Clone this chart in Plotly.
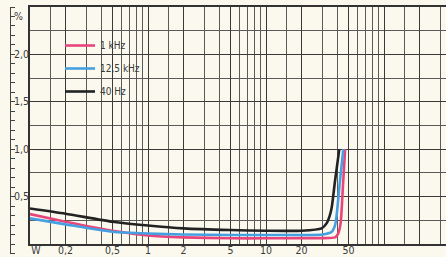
import plotly.graph_objects as go

# ---------------- data ----------------
x_1khz = [0.1, 0.2, 0.3, 0.5, 1, 2, 5, 10, 20, 30, 38.5, 40.9, 42.9, 44.6, 46.8]
y_1khz = [0.315, 0.235, 0.19, 0.14, 0.09, 0.07, 0.06, 0.06, 0.062, 0.062, 0.07, 0.11, 0.22, 0.55, 1.0]

x_12k5 = [0.1, 0.2, 0.5, 1, 2, 5, 10, 20, 30, 36.1, 38.5, 39.8, 42.4, 45.2]
y_12k5 = [0.27, 0.207, 0.13, 0.11, 0.10, 0.095, 0.095, 0.095, 0.10, 0.13, 0.2, 0.32, 0.67, 1.0]

x_40hz = [0.1, 0.2, 0.5, 1, 2, 5, 10, 20, 29.6, 32.7, 34.8, 36.1, 38.5, 41.8]
y_40hz = [0.375, 0.32, 0.235, 0.195, 0.165, 0.147, 0.14, 0.14, 0.165, 0.22, 0.305, 0.39, 0.67, 1.0]

series_names = ["1 kHz", "12,5 kHz", "40 Hz"]

x_label_vals = [0.112, 0.2, 0.5, 1, 2, 5, 10, 20, 50]
x_label_text = ["W", "0,2", "0,5", "1", "2", "5", "10", "20", "50"]

x_grid_major = [0.1, 0.2, 0.5, 1, 2, 5, 10, 20, 50, 100, 200]
x_grid_minor = [0.15, 0.3, 0.4, 0.6, 0.7, 0.8, 0.9, 1.5, 3, 4, 6, 7, 8, 9,
                15, 30, 40, 60, 70, 80, 90, 150, 300]

y_scale_vals = [round(-0.1 + 0.1 * i, 2) for i in range(27)]
y_scale_labels = {0.5: "0,5", 1.0: "1,0", 1.5: "1,5", 2.0: "2,0", 2.4: "%"}

# ---------------- layout helpers ----------------
W, H = 446, 257
BG = "#fbf9ee"
INK = "#3a3a3a"
FONT = "DejaVu Sans Condensed, Liberation Sans Narrow, Liberation Sans, sans-serif"

def fx(p):
    return p / W

def fy(p):
    return (H - p) / H

colors = ["#e8457a", "#45a0e2", "#222222"]

fig = go.Figure()
for xs, ys, name, c in [(x_1khz, y_1khz, series_names[0], colors[0]),
                        (x_12k5, y_12k5, series_names[1], colors[1]),
                        (x_40hz, y_40hz, series_names[2], colors[2])]:
    fig.add_trace(go.Scatter(x=xs, y=ys, mode="lines", name=name,
                             line=dict(color=c, width=2.6, shape="spline", smoothing=0.6),
                             legendgroup=name))

# invisible helper traces so the extra axes are drawn
fig.add_trace(go.Scatter(x=[1], y=[1], xaxis="x2", yaxis="y", mode="markers",
                         marker=dict(opacity=0), showlegend=False, hoverinfo="skip"))
fig.add_trace(go.Scatter(x=[0], y=[1], xaxis="x3", yaxis="y2", mode="markers",
                         marker=dict(opacity=0), showlegend=False, hoverinfo="skip"))

xrange = [-1, -1 + (W - 30) / 118]

fig.update_layout(
    width=W, height=H,
    margin=dict(l=0, r=0, t=0, b=0, autoexpand=False),
    paper_bgcolor=BG, plot_bgcolor=BG,
    font=dict(family=FONT, color=INK, size=11),
    showlegend=True,
    legend=dict(x=fx(60), y=fy(31), xanchor="left", yanchor="top",
                bgcolor="rgba(0,0,0,0)", font=dict(size=10, color=INK),
                traceorder="grouped", tracegroupgap=4, itemwidth=30),
    xaxis=dict(type="log", range=xrange, domain=[fx(30), 1], automargin=False,
               tickmode="array", tickvals=x_grid_major, showticklabels=False,
               ticks="", showgrid=True, gridcolor="#3a3a3a", gridwidth=1.4,
               minor=dict(tickmode="array", tickvals=x_grid_minor, showgrid=True,
                          gridcolor="#5a5a5a", gridwidth=1, ticks=""),
               showline=True, linecolor="#333", linewidth=1.5, mirror=True,
               zeroline=False, fixedrange=True),
    xaxis2=dict(type="log", range=xrange, overlaying="x", anchor="y", side="bottom",
                automargin=False, ticklabelstandoff=-2,
                tickmode="array", tickvals=x_label_vals, ticktext=x_label_text,
                showgrid=False, ticks="", showline=False, zeroline=False,
                tickfont=dict(size=10.5, color=INK)),
    xaxis3=dict(domain=[0, fx(29)], anchor="y2", visible=False, range=[0, 1],
                automargin=False),
    yaxis=dict(range=[0, 2.5], domain=[fy(244), fy(7)], automargin=False,
               tickmode="linear", tick0=0, dtick=0.5, showticklabels=False,
               ticks="", showgrid=True, gridcolor="#3a3a3a", gridwidth=1.4,
               minor=dict(dtick=0.25, tick0=0, showgrid=True, gridcolor="#5a5a5a",
                          gridwidth=1, ticks=""),
               showline=True, linecolor="#333", linewidth=1.5,
               zeroline=False, fixedrange=True),
    yaxis2=dict(range=[-0.1, 2.5], domain=[fy(253.5), fy(7)], anchor="free",
                position=fx(10), side="right", automargin=False,
                ticklabelstandoff=-3,
                tickmode="array", tickvals=y_scale_vals,
                ticktext=[y_scale_labels.get(v, "") for v in y_scale_vals],
                ticks="outside", ticklen=4, tickcolor="#444", tickwidth=1,
                showgrid=False, zeroline=False, showline=True, linecolor="#444",
                linewidth=1, tickfont=dict(size=10.5, color=INK)),
)

fig.write_html("out.html", config={"displayModeBar": False},
               post_script="document.body.style.margin='0';document.body.style.overflow='hidden';")
